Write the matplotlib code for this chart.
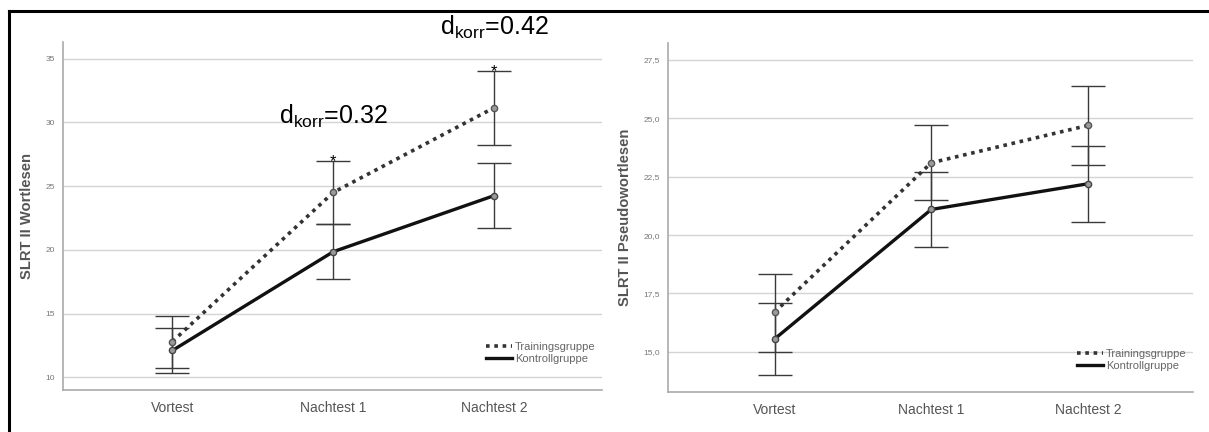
import matplotlib
matplotlib.use("Agg")
import matplotlib.pyplot as plt
from matplotlib.lines import Line2D
from matplotlib.ticker import FuncFormatter

plt.rcParams['font.family'] = ['Liberation Sans', 'DejaVu Sans']
plt.rcParams['mathtext.fontset'] = 'custom'
plt.rcParams['mathtext.rm'] = 'Liberation Sans'
plt.rcParams['mathtext.it'] = 'Liberation Sans:italic'

categories = ["Vortest", "Nachtest 1", "Nachtest 2"]
groups = ["Trainingsgruppe", "Kontrollgruppe"]

# Left panel: SLRT II Wortlesen
wort_train_mean = [12.8, 24.5, 31.15]
wort_train_lo = [10.7, 22.0, 28.2]
wort_train_hi = [14.8, 27.0, 34.05]
wort_ctrl_mean = [12.1, 19.85, 24.25]
wort_ctrl_lo = [10.35, 17.7, 21.7]
wort_ctrl_hi = [13.85, 22.0, 26.8]
wort_yticks = [10, 15, 20, 25, 30, 35]

# Right panel: SLRT II Pseudowortlesen
pseudo_train_mean = [16.7, 23.1, 24.7]
pseudo_train_lo = [15.0, 21.5, 23.0]
pseudo_train_hi = [18.35, 24.7, 26.4]
pseudo_ctrl_mean = [15.55, 21.1, 22.2]
pseudo_ctrl_lo = [14.0, 19.5, 20.55]
pseudo_ctrl_hi = [17.1, 22.7, 23.8]
pseudo_yticks = [15.0, 17.5, 20.0, 22.5, 25.0, 27.5]

effect_labels = [r"d$_{\mathrm{korr}}$=0.32", r"d$_{\mathrm{korr}}$=0.42"]
effect_idx = [1, 2]

fig = plt.figure(figsize=(12.09, 4.32), dpi=100)
W, H = 1209, 432

def px_axes(x0, y0, x1, y1):
    return fig.add_axes([x0 / W, 1 - y1 / H, (x1 - x0) / W, (y1 - y0) / H])

ax1 = px_axes(63, 42, 602, 390)
ax2 = px_axes(668, 43, 1193, 392)

gridc = "#d4d4d4"
dotted = (0, (1.0, 1.3))

def draw(ax, tm, tlo, thi, cm, clo, chi, yticks, ylim, ylabel, fmt, leg_y):
    x = list(range(len(categories)))
    ax.set_xlim(-0.68, 2.67)
    ax.set_ylim(*ylim)
    ax.set_yticks(yticks)
    ax.yaxis.set_major_formatter(FuncFormatter(fmt))
    for yv in yticks:
        ax.axhline(yv, color=gridc, lw=1.0, zorder=0)
    for m, lo, hi in ((tm, tlo, thi), (cm, clo, chi)):
        yerr = [[mi - l for mi, l in zip(m, lo)], [h - mi for mi, h in zip(m, hi)]]
        ax.errorbar(x, m, yerr=yerr, fmt="none", ecolor="#3a3a3a", elinewidth=1.0,
                    capsize=12, capthick=1.0, zorder=2)
    ax.plot(x, tm, color="#333333", lw=2.6, linestyle=dotted,
            marker="o", ms=4.5, mfc="#9a9a9a", mec="#555555", zorder=3)
    ax.plot(x, cm, color="#111111", lw=2.4, marker="o", ms=4.5, mfc="#9a9a9a",
            mec="#444444", zorder=3)
    ax.set_xticks(x)
    ax.set_xticklabels(categories, fontsize=10, color="#555555")
    ax.tick_params(axis="x", length=0, pad=8)
    ax.tick_params(axis="y", length=0, labelsize=6, labelcolor="#777777", pad=6)
    for s in ("top", "right"):
        ax.spines[s].set_visible(False)
    for s in ("left", "bottom"):
        ax.spines[s].set_color("#aaaaaa")
        ax.spines[s].set_linewidth(1.2)
    ax.set_ylabel(ylabel, fontsize=10.6, color="#555555", fontweight="bold", labelpad=8)
    handles = [Line2D([], [], color="#333333", lw=2.6, linestyle=dotted),
               Line2D([], [], color="#111111", lw=2.4)]
    leg = ax.legend(handles, groups, loc="lower right", bbox_to_anchor=(1.0, leg_y),
                    frameon=False, fontsize=8, handlelength=2.35, handletextpad=0.2,
                    labelspacing=0.18, borderaxespad=0.2)
    for t in leg.get_texts():
        t.set_color("#666666")

draw(ax1, wort_train_mean, wort_train_lo, wort_train_hi, wort_ctrl_mean, wort_ctrl_lo,
     wort_ctrl_hi, wort_yticks, (9.0, 36.3), "SLRT II Wortlesen",
     lambda v, p: f"{v:.0f}", 0.056)
draw(ax2, pseudo_train_mean, pseudo_train_lo, pseudo_train_hi, pseudo_ctrl_mean,
     pseudo_ctrl_lo, pseudo_ctrl_hi, pseudo_yticks, (13.28, 28.23),
     "SLRT II Pseudowortlesen", lambda v, p: f"{v:.1f}".replace(".", ","), 0.04)

# significance asterisks and effect sizes
for i in effect_idx:
    ax1.text(i, wort_train_hi[i] - 0.1, "*", ha="center", va="center", fontsize=12,
             color="black", zorder=5)
ax1.text(1.0, 29.9, effect_labels[0], ha="center", va="baseline", fontsize=18,
         color="black", clip_on=False)
ax1.text(2.0, 36.3 + 0.55, effect_labels[1], ha="center", va="baseline", fontsize=18,
         color="black", clip_on=False)

# outer frame (top and left)
fig.add_artist(Line2D([9 / W, 1.0], [1 - 11 / H, 1 - 11 / H], color="black", lw=2.2,
                      transform=fig.transFigure))
fig.add_artist(Line2D([9 / W, 9 / W], [1 - 11 / H, 0.0], color="black", lw=2.2,
                      transform=fig.transFigure))

fig.savefig("out.png", dpi=100)
